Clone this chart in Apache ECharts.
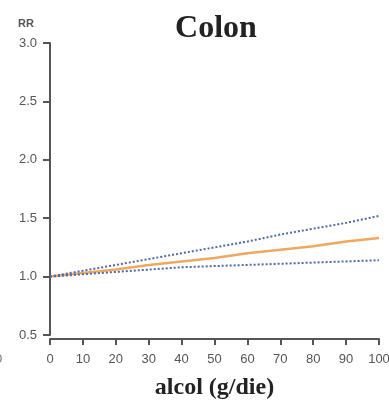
<!DOCTYPE html>
<html>
<head>
<meta charset="utf-8">
<script src="https://cdn.jsdelivr.net/npm/echarts@6/dist/echarts.min.js"></script>
<style>
html, body { margin: 0; padding: 0; background: #fff; }
#chart { width: 389px; height: 401px; }
</style>
</head>
<body>
<div id="chart"></div>
<script>
// dati
var alcol = [0, 10, 20, 30, 40, 50, 60, 70, 80, 90, 100];
var rr = [1.00, 1.03, 1.06, 1.10, 1.13, 1.16, 1.20, 1.23, 1.26, 1.30, 1.33];
var rrUpper = [1.00, 1.05, 1.10, 1.15, 1.20, 1.25, 1.30, 1.36, 1.41, 1.46, 1.52];
var rrLower = [1.00, 1.02, 1.04, 1.06, 1.08, 1.09, 1.10, 1.11, 1.12, 1.13, 1.14];

function pairs(ys) {
    return alcol.map(function (x, i) { return [x, ys[i]]; });
}

var chart = echarts.init(document.getElementById('chart'));

var axisGray = '#555';
var option = {
    animation: false,
    title: {
        text: 'Colon',
        left: 211,
        textAlign: 'center',
        top: 8,
        textStyle: {
            fontFamily: 'Liberation Serif',
            fontWeight: 'bold',
            fontSize: 32,
            color: '#222'
        }
    },
    grid: { left: 50, right: 10, top: 43, bottom: 66, outerBoundsMode: 'none' },
    xAxis: {
        type: 'value',
        min: 0,
        max: 100,
        interval: 10,
        offset: 4,
        name: 'alcol (g/die)',
        nameLocation: 'middle',
        nameGap: 37,
        nameTextStyle: {
            fontFamily: 'Liberation Serif',
            fontWeight: 'bold',
            fontSize: 24,
            color: '#222'
        },
        splitLine: { show: false },
        axisLine: { lineStyle: { color: axisGray, width: 2 } },
        axisTick: { length: 6, lineStyle: { color: axisGray, width: 2 } },
        axisLabel: {
            margin: 14,
            fontFamily: 'Liberation Sans',
            fontSize: 13,
            color: '#555'
        }
    },
    yAxis: {
        type: 'value',
        min: 0.5,
        max: 3.0,
        interval: 0.5,
        offset: 2,
        name: 'RR',
        nameLocation: 'end',
        nameGap: 14,
        nameTextStyle: {
            fontFamily: 'Liberation Sans',
            fontWeight: 'bold',
            fontSize: 11,
            color: '#555',
            align: 'right',
            padding: [0, 16, 0, 0]
        },
        splitLine: { show: false },
        axisLine: { show: true, lineStyle: { color: axisGray, width: 2 } },
        axisTick: { show: true, length: 7, lineStyle: { color: axisGray, width: 2 } },
        axisLabel: {
            margin: 11,
            fontFamily: 'Liberation Sans',
            fontSize: 13,
            color: '#555',
            formatter: function (v) { return v.toFixed(1); }
        }
    },
    graphic: [{
        type: 'text',
        left: -5,
        top: 353,
        style: { text: '0', fontFamily: 'Liberation Sans', fontSize: 13, fill: '#777' }
    }],
    series: [{
        type: 'line',
        data: pairs(rrUpper),
        showSymbol: false,
        lineStyle: { color: '#4d6aa8', width: 2, type: [2, 2] },
        z: 3
    }, {
        type: 'line',
        data: pairs(rrLower),
        showSymbol: false,
        lineStyle: { color: '#4d6aa8', width: 2, type: [2, 2] },
        z: 3
    }, {
        type: 'line',
        data: pairs(rr),
        showSymbol: false,
        lineStyle: { color: '#f0a860', width: 2.5 },
        z: 2
    }]
};

chart.setOption(option);
</script>
</body>
</html>
